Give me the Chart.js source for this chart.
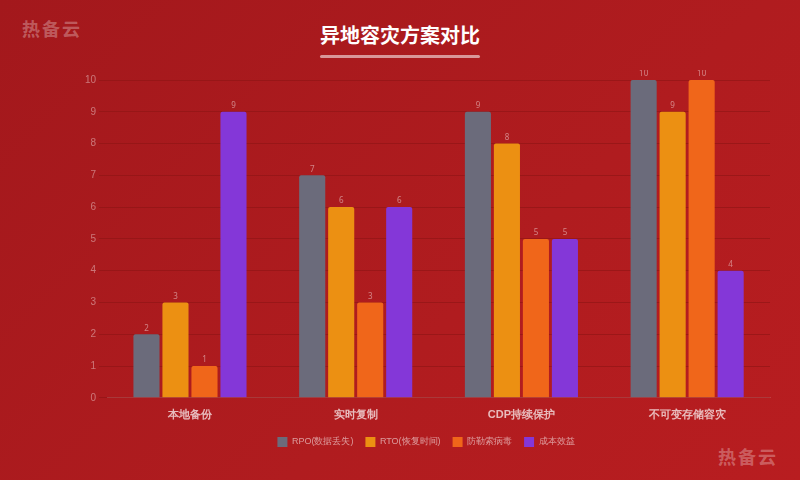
<!DOCTYPE html>
<html><head><meta charset="utf-8">
<script src="https://cdn.jsdelivr.net/npm/chart.js@4"></script>
<style>
body{margin:0;width:800px;height:480px;overflow:hidden;background:linear-gradient(135deg,#a3181c 0%,#b01c1f 60%,#b81d20 100%);font-family:"Noto Sans CJK SC","Noto Sans",sans-serif;position:relative}
h1{position:absolute;top:20px;left:0;width:800px;text-align:center;margin:0;color:#fff;font-size:20px;font-weight:bold}
.ul{position:absolute;top:55px;left:320px;width:160px;height:3px;background:rgba(255,255,255,0.55);border-radius:2px}
.wm{position:absolute;color:rgba(255,255,255,0.3);font-size:18px;font-weight:bold;letter-spacing:2px}
#c{position:absolute;left:0;top:70px}
</style></head><body>
<h1>异地容灾方案对比</h1><div class="ul"></div>
<div class="wm" style="left:22px;top:15px">热备云</div>
<div class="wm" style="left:718px;top:443px">热备云</div>
<canvas id="c" width="800" height="395"></canvas>
<script>
const categories = ['本地备份', '实时复制', 'CDP持续保护', '不可变存储容灾'];
const seriesNames = ['RPO(数据丢失)', 'RTO(恢复时间)', '防勒索病毒', '成本效益'];
const rpo = [2, 7, 9, 10];
const rto = [3, 6, 8, 9];
const ransom = [1, 3, 5, 10];
const cost = [9, 6, 5, 4];
const colors = ['#6b6b7b', '#ec9012', '#f0661a', '#8437d8'];

const labelPlugin = {
  id: 'vals',
  afterDatasetsDraw(chart) {
    const ctx = chart.ctx;
    ctx.save();
    ctx.font = '8px "Noto Sans"';
    ctx.fillStyle = 'rgba(255,255,255,0.45)';
    ctx.textAlign = 'center';
    chart.data.datasets.forEach((ds, i) => {
      chart.getDatasetMeta(i).data.forEach((bar, j) => {
        ctx.fillText(ds.data[j], bar.x, bar.y - 6);
      });
    });
    ctx.restore();
  }
};

new Chart(document.getElementById('c'), {
  type: 'bar',
  data: {
    labels: categories,
    datasets: [rpo, rto, ransom, cost].map((d, i) => ({
      label: seriesNames[i], data: d, backgroundColor: colors[i],
      borderRadius: 2, categoryPercentage: 0.7, barPercentage: 0.9
    }))
  },
  options: {
    responsive: false, animation: false,
    layout: { padding: { left: 82, right: 30, top: 10, bottom: 8 } },
    scales: {
      x: { grid: { display: false }, border: { color: 'rgba(255,255,255,0.15)' },
           ticks: { color: 'rgba(255,255,255,0.7)', font: { size: 11, weight: 'bold' } } },
      y: { min: 0, max: 10, ticks: { stepSize: 1, color: 'rgba(255,255,255,0.4)', font: { size: 10 } },
           grid: { color: 'rgba(140,20,20,0.6)' }, border: { display: false } }
    },
    plugins: {
      legend: { position: 'bottom', labels: { color: 'rgba(255,255,255,0.55)', boxWidth: 10, boxHeight: 10, padding: 12, font: { size: 9 } } },
      tooltip: { enabled: false }
    }
  },
  plugins: [labelPlugin]
});
</script></body></html>
